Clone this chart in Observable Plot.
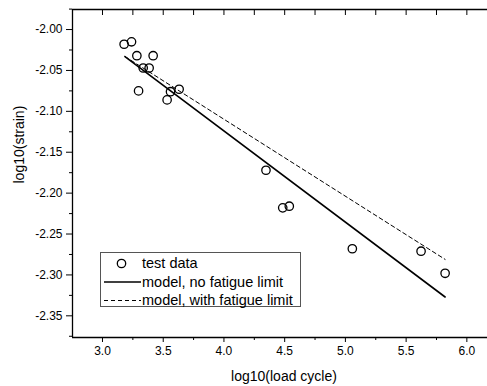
<!DOCTYPE html>
<html>
<head>
<meta charset="utf-8">
<script src="https://cdn.jsdelivr.net/npm/d3@7"></script>
<script src="https://cdn.jsdelivr.net/npm/@observablehq/plot@0.6"></script>
<style>
  html, body { margin: 0; padding: 0; background: #fff; }
  #wrap { position: relative; width: 487px; height: 386px; overflow: hidden; }
  #legend { position: absolute; left: 100px; top: 252px; width: 201px; height: 55px; box-sizing: border-box;
    border: 1px solid #555; background: #fff; font-family: "Liberation Sans", Arial, sans-serif; font-size: 14.5px; color: #000; }
  #legend .row { position: absolute; left: 41px; white-space: nowrap; line-height: 16px; }
  #legend svg { position: absolute; left: 0; top: 0; }
</style>
</head>
<body>
<div id="wrap"><div id="legend"></div></div>
<script>
// test data: log10(load cycle), log10(strain)
const cycles = [3.178, 3.239, 3.283, 3.417, 3.335, 3.384, 3.297, 3.560, 3.631, 3.532, 4.346, 4.484, 4.538, 5.057, 5.623, 5.821];
const strains = [-2.018, -2.015, -2.032, -2.032, -2.047, -2.047, -2.075, -2.076, -2.073, -2.086, -2.172, -2.218, -2.216, -2.268, -2.271, -2.298];

// model, no fatigue limit
const modelNoX = [3.185, 5.821];
const modelNoY = [-2.033, -2.327];
// model, with fatigue limit
const modelWithX = [3.185, 5.821];
const modelWithY = [-2.033, -2.281];

const xMajor = [3.0, 3.5, 4.0, 4.5, 5.0, 5.5, 6.0];
const xMinor = [3.25, 3.75, 4.25, 4.75, 5.25, 5.75];
const yMajor = [-2.00, -2.05, -2.10, -2.15, -2.20, -2.25, -2.30, -2.35];
const yMinor = [-1.975, -2.025, -2.075, -2.125, -2.175, -2.225, -2.275, -2.325, -2.375];

const legendLabels = ["test data", "model, no fatigue limit", "model, with fatigue limit"];
const xTitle = "log10(load cycle)";
const yTitle = "log10(strain)";

const xDomain = [2.753, 6.17];
const yDomain = [-2.3765, -1.9755];

const pts = cycles.map((c, i) => ({x: c, y: strains[i]}));
const lineNo = modelNoX.map((c, i) => ({x: c, y: modelNoY[i]}));
const lineWith = modelWithX.map((c, i) => ({x: c, y: modelWithY[i]}));

const chart = Plot.plot({
  width: 487,
  height: 386,
  marginLeft: 72,
  marginRight: 0,
  marginTop: 9,
  marginBottom: 49,
  style: {fontFamily: "'Liberation Sans', Arial, sans-serif", fontSize: "12px", color: "#000", background: "#fff"},
  x: {domain: xDomain},
  y: {domain: yDomain},
  marks: [
    Plot.axisX({ticks: xMajor, tickFormat: d => d.toFixed(1), tickSize: 5, tickPadding: 4, label: null, fontSize: 12}),
    Plot.axisX({ticks: xMinor, tickFormat: () => "", tickSize: 3, label: null}),
    Plot.axisX({anchor: "top", ticks: xMajor.concat(xMinor), tickFormat: () => "", tickSize: -5, label: null}),
    Plot.axisY({ticks: yMajor, tickFormat: d => d.toFixed(2), tickSize: 6, tickPadding: 4, label: null, fontSize: 12}),
    Plot.axisY({ticks: yMinor, tickFormat: () => "", tickSize: 3, label: null}),
    Plot.ruleX([xDomain[0]], {stroke: "#000", strokeWidth: 1.3}),
    Plot.ruleY([yDomain[0]], {stroke: "#000", strokeWidth: 1.3}),
    Plot.ruleY([yDomain[1]], {stroke: "#000", strokeWidth: 1.3}),
    Plot.line(lineWith, {x: "x", y: "y", stroke: "#000", strokeWidth: 1, strokeDasharray: "4,3"}),
    Plot.line(lineNo, {x: "x", y: "y", stroke: "#000", strokeWidth: 1.6}),
    Plot.dot(pts, {x: "x", y: "y", r: 4.2, stroke: "#000", fill: "none", strokeWidth: 1.3}),
    Plot.text([xTitle], {frameAnchor: "bottom", lineAnchor: "middle", dy: 39, dx: 4, fontSize: 14}),
    Plot.text([yTitle], {frameAnchor: "left", lineAnchor: "middle", rotate: -90, dx: -53, dy: 10, fontSize: 14})
  ]
});
const wrap = document.getElementById("wrap");
wrap.insertBefore(chart, wrap.firstChild);

// legend
const leg = document.getElementById("legend");
const ns = "http://www.w3.org/2000/svg";
const sw = document.createElementNS(ns, "svg");
sw.setAttribute("width", "42"); sw.setAttribute("height", "53");
const rowsY = [10.5, 29, 47.5];
const c = document.createElementNS(ns, "circle");
c.setAttribute("cx", "20.5"); c.setAttribute("cy", rowsY[0]); c.setAttribute("r", "4.2");
c.setAttribute("fill", "none"); c.setAttribute("stroke", "#000"); c.setAttribute("stroke-width", "1.3");
sw.appendChild(c);
[[rowsY[1], "1.6", null], [rowsY[2], "1", "4,3"]].forEach(([yy, w, da]) => {
  const l = document.createElementNS(ns, "line");
  l.setAttribute("x1", "3"); l.setAttribute("x2", "40"); l.setAttribute("y1", yy); l.setAttribute("y2", yy);
  l.setAttribute("stroke", "#000"); l.setAttribute("stroke-width", w);
  if (da) l.setAttribute("stroke-dasharray", da);
  sw.appendChild(l);
});
leg.appendChild(sw);
legendLabels.forEach((t, i) => {
  const d = document.createElement("div");
  d.className = "row";
  d.style.top = (rowsY[i] - 8.5) + "px";
  d.textContent = t;
  leg.appendChild(d);
});
</script>
</body>
</html>
